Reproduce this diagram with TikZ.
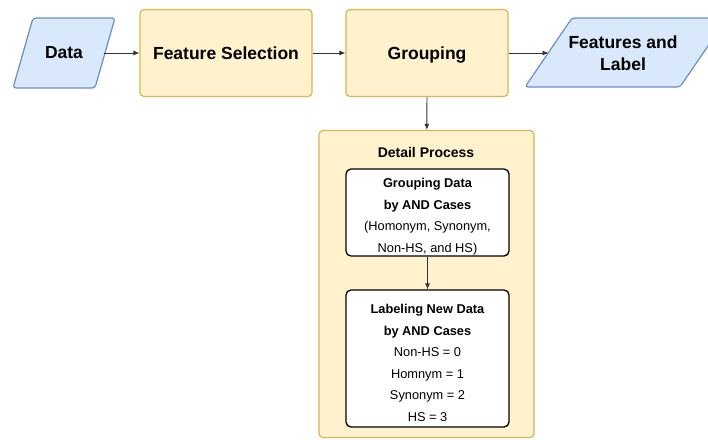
\documentclass[tikz,border=0pt]{standalone}
\usepackage{fontspec}
\setmainfont{Liberation Sans}
\usetikzlibrary{arrows.meta}
\definecolor{iofill}{HTML}{DAE8FC}
\definecolor{ioline}{HTML}{6C8EBF}
\definecolor{procfill}{HTML}{FFF2CC}
\definecolor{procline}{HTML}{D6B656}
\newcommand{\lbl}{\fontsize{17.5}{22}\selectfont\bfseries}
\newcommand{\ttl}{\fontsize{14}{17}\selectfont\bfseries}
\newcommand{\inr}{\fontsize{12.8}{21.5}\selectfont}
\newcommand{\topstrut}{\rule{0pt}{18pt}}

\begin{document}
\begin{tikzpicture}[x=1pt,y=-1pt,
  io/.style={fill=iofill, draw=ioline, line width=1.2pt, rounded corners=3pt},
  proc/.style={rectangle, fill=procfill, draw=procline, line width=1.2pt,
    rounded corners=4pt, inner sep=0pt, text depth=0pt, align=center, font=\lbl},
  stepbox/.style={rectangle, fill=white, draw=black, line width=1.3pt,
    rounded corners=5pt, minimum width=163, inner sep=0pt, align=center, font=\inr},
  link/.style={draw=black!80, line width=0.8pt, -{Latex[length=6pt,width=5pt]}}]
\useasboundingbox (0,0) rectangle (708,439);
\draw[io] (13,88) -- (33,18) -- (115,18) -- (95,88) -- cycle;
\node[font=\lbl] (data) at (64,53) {Data};
\coordinate (dataout) at (104,53);
\draw[io] (525,87) -- (572,18) -- (727,18) -- (680,87) -- cycle;
\node[font=\lbl, align=center] (featlabel) at (623,53) {Features and\\Label};
\coordinate (featin) at (548.5,53);
\node[proc, minimum width=172, minimum height=87] (featsel) at (226,53) {Feature Selection};
\node[proc, minimum width=162, minimum height=87] (grouping) at (427,53) {Grouping};
\node[proc, minimum width=215, minimum height=307] (detail) at (426.5,284) {};
\node[font=\ttl] (detailtitle) at (426,152) {Detail Process};
\node[stepbox, minimum height=87] (groupdata) at (427.5,212.5)
  {\topstrut\textbf{Grouping Data}\\\textbf{by AND Cases}\\(Homonym, Synonym,\\Non-HS, and HS)};
\node[stepbox, minimum height=137] (labeldata) at (427.5,358.5)
  {\topstrut\textbf{Labeling New Data}\\\textbf{by AND Cases}\\Non-HS = 0\\Homnym = 1\\Synonym = 2\\HS = 3};
\draw[link] (dataout) -- (featsel.west);
\draw[link] (featsel) -- (grouping);
\draw[link] (grouping.east) -- (featin);
\draw[link] (grouping) -- (detail);
\draw[link] (groupdata) -- (labeldata);
\end{tikzpicture}
\end{document}
